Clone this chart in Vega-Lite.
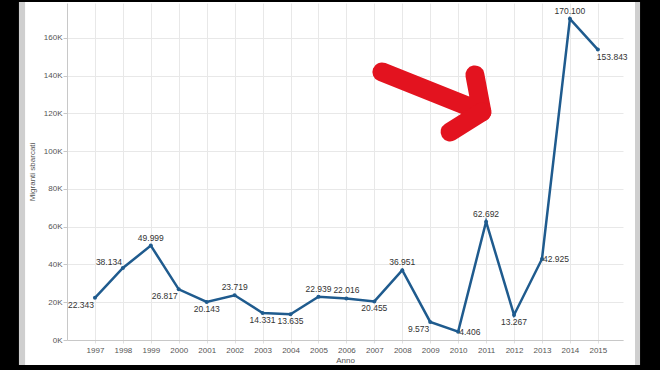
{
  "$schema": "https://vega.github.io/schema/vega-lite/v6.json",
  "width": 556,
  "height": 337,
  "autosize": {"type": "none"},
  "padding": {"left": 67, "top": 3, "right": 37, "bottom": 30},
  "background": "white",
  "config": {
    "view": {"stroke": null},
    "font": "Liberation Sans",
    "locale": {"number": {"decimal": ",", "thousands": ".", "grouping": [3], "currency": ["€", ""]}}
  },
  "datasets": {
    "migranti": [
      {"Anno": 1997, "Migranti": 22343},
      {"Anno": 1998, "Migranti": 38134},
      {"Anno": 1999, "Migranti": 49999},
      {"Anno": 2000, "Migranti": 26817},
      {"Anno": 2001, "Migranti": 20143},
      {"Anno": 2002, "Migranti": 23719},
      {"Anno": 2003, "Migranti": 14331},
      {"Anno": 2004, "Migranti": 13635},
      {"Anno": 2005, "Migranti": 22939},
      {"Anno": 2006, "Migranti": 22016},
      {"Anno": 2007, "Migranti": 20455},
      {"Anno": 2008, "Migranti": 36951},
      {"Anno": 2009, "Migranti": 9573},
      {"Anno": 2010, "Migranti": 4406},
      {"Anno": 2011, "Migranti": 62692},
      {"Anno": 2012, "Migranti": 13267},
      {"Anno": 2013, "Migranti": 42925},
      {"Anno": 2014, "Migranti": 170100},
      {"Anno": 2015, "Migranti": 153843}
    ],
    "frame": [
      {"part": "shadow", "x": 1992.71, "x2": 2018.12, "y": -39720, "y2": 205500},
      {"part": "border", "x": 1992.49, "x2": 2018.30, "y": -39720, "y2": 205500}
    ],
    "arrow": [
      {"seg": "a", "ord": 1, "x": 2007.27, "y": 142000},
      {"seg": "a", "ord": 2, "x": 2010.85, "y": 120800},
      {"seg": "a", "ord": 3, "x": 2010.60, "y": 140400},
      {"seg": "b", "ord": 1, "x": 2009.71, "y": 110200},
      {"seg": "b", "ord": 2, "x": 2010.85, "y": 120800}
    ]
  },
  "layer": [
    {
      "data": {"name": "migranti"},
      "mark": {"type": "line", "color": "#1f5b8e", "strokeWidth": 2.5},
      "encoding": {
        "x": {"field": "Anno", "type": "quantitative", "scale": {"domain": [1996, 2015.9], "nice": false, "zero": false}, "axis": {"title": "Anno", "values": [1997,1998,1999,2000,2001,2002,2003,2004,2005,2006,2007,2008,2009,2010,2011,2012,2013,2014,2015], "tickCount": 40, "format": "d", "labelOverlap": false, "labelFlush": false, "grid": true, "gridColor": "#e8e8e8", "domainColor": "#c8c8c8", "tickColor": "#e0e0e0", "tickSize": 3, "labelPadding": 3, "labelFontSize": 8, "labelColor": "#555", "labelFont": "Liberation Sans", "titleFontSize": 8, "titleFontWeight": "normal", "titleColor": "#555", "titlePadding": 2, "titleFont": "Liberation Sans"}},
        "y": {"field": "Migranti", "type": "quantitative", "scale": {"domain": [0, 178500], "nice": false}, "axis": {"title": "Migranti sbarcati", "values": [0,20000,40000,60000,80000,100000,120000,140000,160000], "tickCount": 20, "labelExpr": "datum.value/1000 + 'K'", "labelOverlap": false, "grid": true, "gridColor": "#e8e8e8", "domainColor": "#c8c8c8", "tickColor": "#c8c8c8", "tickSize": 4, "labelPadding": 1, "labelFontSize": 8, "labelColor": "#555", "labelFont": "Liberation Sans", "titleFontSize": 8, "titleFontWeight": "normal", "titleColor": "#555", "titlePadding": 7, "titleFont": "Liberation Sans"}}
      }
    },
    {
      "data": {"name": "frame"},
      "mark": {"type": "rect", "fill": null, "strokeWidth": 100, "clip": false},
      "encoding": {
        "x": {"field": "x", "type": "quantitative"},
        "x2": {"field": "x2"},
        "y": {"field": "y", "type": "quantitative"},
        "y2": {"field": "y2"},
        "stroke": {"field": "part", "type": "nominal", "scale": {"domain": ["shadow", "border"], "range": ["#cfcfcf", "#000000"]}, "legend": null}
      }
    },
    {
      "data": {"name": "migranti"},
      "mark": {"type": "point", "filled": true, "color": "#1f5b8e", "size": 16, "opacity": 1},
      "encoding": {
        "x": {"field": "Anno", "type": "quantitative"},
        "y": {"field": "Migranti", "type": "quantitative"}
      }
    },
    {
      "data": {"name": "migranti"},
      "transform": [{"filter": {"field": "Anno", "oneOf": [1999, 2002, 2005, 2006, 2008, 2011, 2014]}}],
      "mark": {"type": "text", "align": "center", "baseline": "middle", "dy": -8, "fontSize": 8.5, "color": "#333", "font": "Liberation Sans"},
      "encoding": {
        "x": {"field": "Anno", "type": "quantitative"},
        "y": {"field": "Migranti", "type": "quantitative"},
        "text": {"field": "Migranti", "type": "quantitative", "format": ",d"}
      }
    },
    {
      "data": {"name": "migranti"},
      "transform": [{"filter": {"field": "Anno", "oneOf": [2001, 2003, 2004, 2007, 2012]}}],
      "mark": {"type": "text", "align": "center", "baseline": "middle", "dy": 7, "fontSize": 8.5, "color": "#333", "font": "Liberation Sans"},
      "encoding": {
        "x": {"field": "Anno", "type": "quantitative"},
        "y": {"field": "Migranti", "type": "quantitative"},
        "text": {"field": "Migranti", "type": "quantitative", "format": ",d"}
      }
    },
    {
      "data": {"name": "migranti"},
      "transform": [{"filter": {"field": "Anno", "oneOf": [1997, 2000, 2009]}}],
      "mark": {"type": "text", "align": "right", "baseline": "middle", "dx": -1, "dy": 7, "fontSize": 8.5, "color": "#333", "font": "Liberation Sans"},
      "encoding": {
        "x": {"field": "Anno", "type": "quantitative"},
        "y": {"field": "Migranti", "type": "quantitative"},
        "text": {"field": "Migranti", "type": "quantitative", "format": ",d"}
      }
    },
    {
      "data": {"name": "migranti"},
      "transform": [{"filter": {"field": "Anno", "oneOf": [1998]}}],
      "mark": {"type": "text", "align": "right", "baseline": "middle", "dx": -1, "dy": -6, "fontSize": 8.5, "color": "#333", "font": "Liberation Sans"},
      "encoding": {
        "x": {"field": "Anno", "type": "quantitative"},
        "y": {"field": "Migranti", "type": "quantitative"},
        "text": {"field": "Migranti", "type": "quantitative", "format": ",d"}
      }
    },
    {
      "data": {"name": "migranti"},
      "transform": [{"filter": {"field": "Anno", "oneOf": [2010, 2013]}}],
      "mark": {"type": "text", "align": "left", "baseline": "middle", "dx": 1, "dy": 0, "fontSize": 8.5, "color": "#333", "font": "Liberation Sans"},
      "encoding": {
        "x": {"field": "Anno", "type": "quantitative"},
        "y": {"field": "Migranti", "type": "quantitative"},
        "text": {"field": "Migranti", "type": "quantitative", "format": ",d"}
      }
    },
    {
      "data": {"name": "migranti"},
      "transform": [{"filter": {"field": "Anno", "oneOf": [2015]}}],
      "mark": {"type": "text", "align": "left", "baseline": "middle", "dx": -1, "dy": 7, "fontSize": 8.5, "color": "#333", "font": "Liberation Sans"},
      "encoding": {
        "x": {"field": "Anno", "type": "quantitative"},
        "y": {"field": "Migranti", "type": "quantitative"},
        "text": {"field": "Migranti", "type": "quantitative", "format": ",d"}
      }
    },
    {
      "data": {"name": "arrow"},
      "mark": {"type": "line", "color": "#e3131f", "strokeWidth": 19, "strokeCap": "round", "strokeJoin": "round", "clip": false},
      "encoding": {
        "x": {"field": "x", "type": "quantitative"},
        "y": {"field": "y", "type": "quantitative"},
        "detail": {"field": "seg", "type": "nominal"},
        "order": {"field": "ord", "type": "quantitative"}
      }
    }
  ]
}
